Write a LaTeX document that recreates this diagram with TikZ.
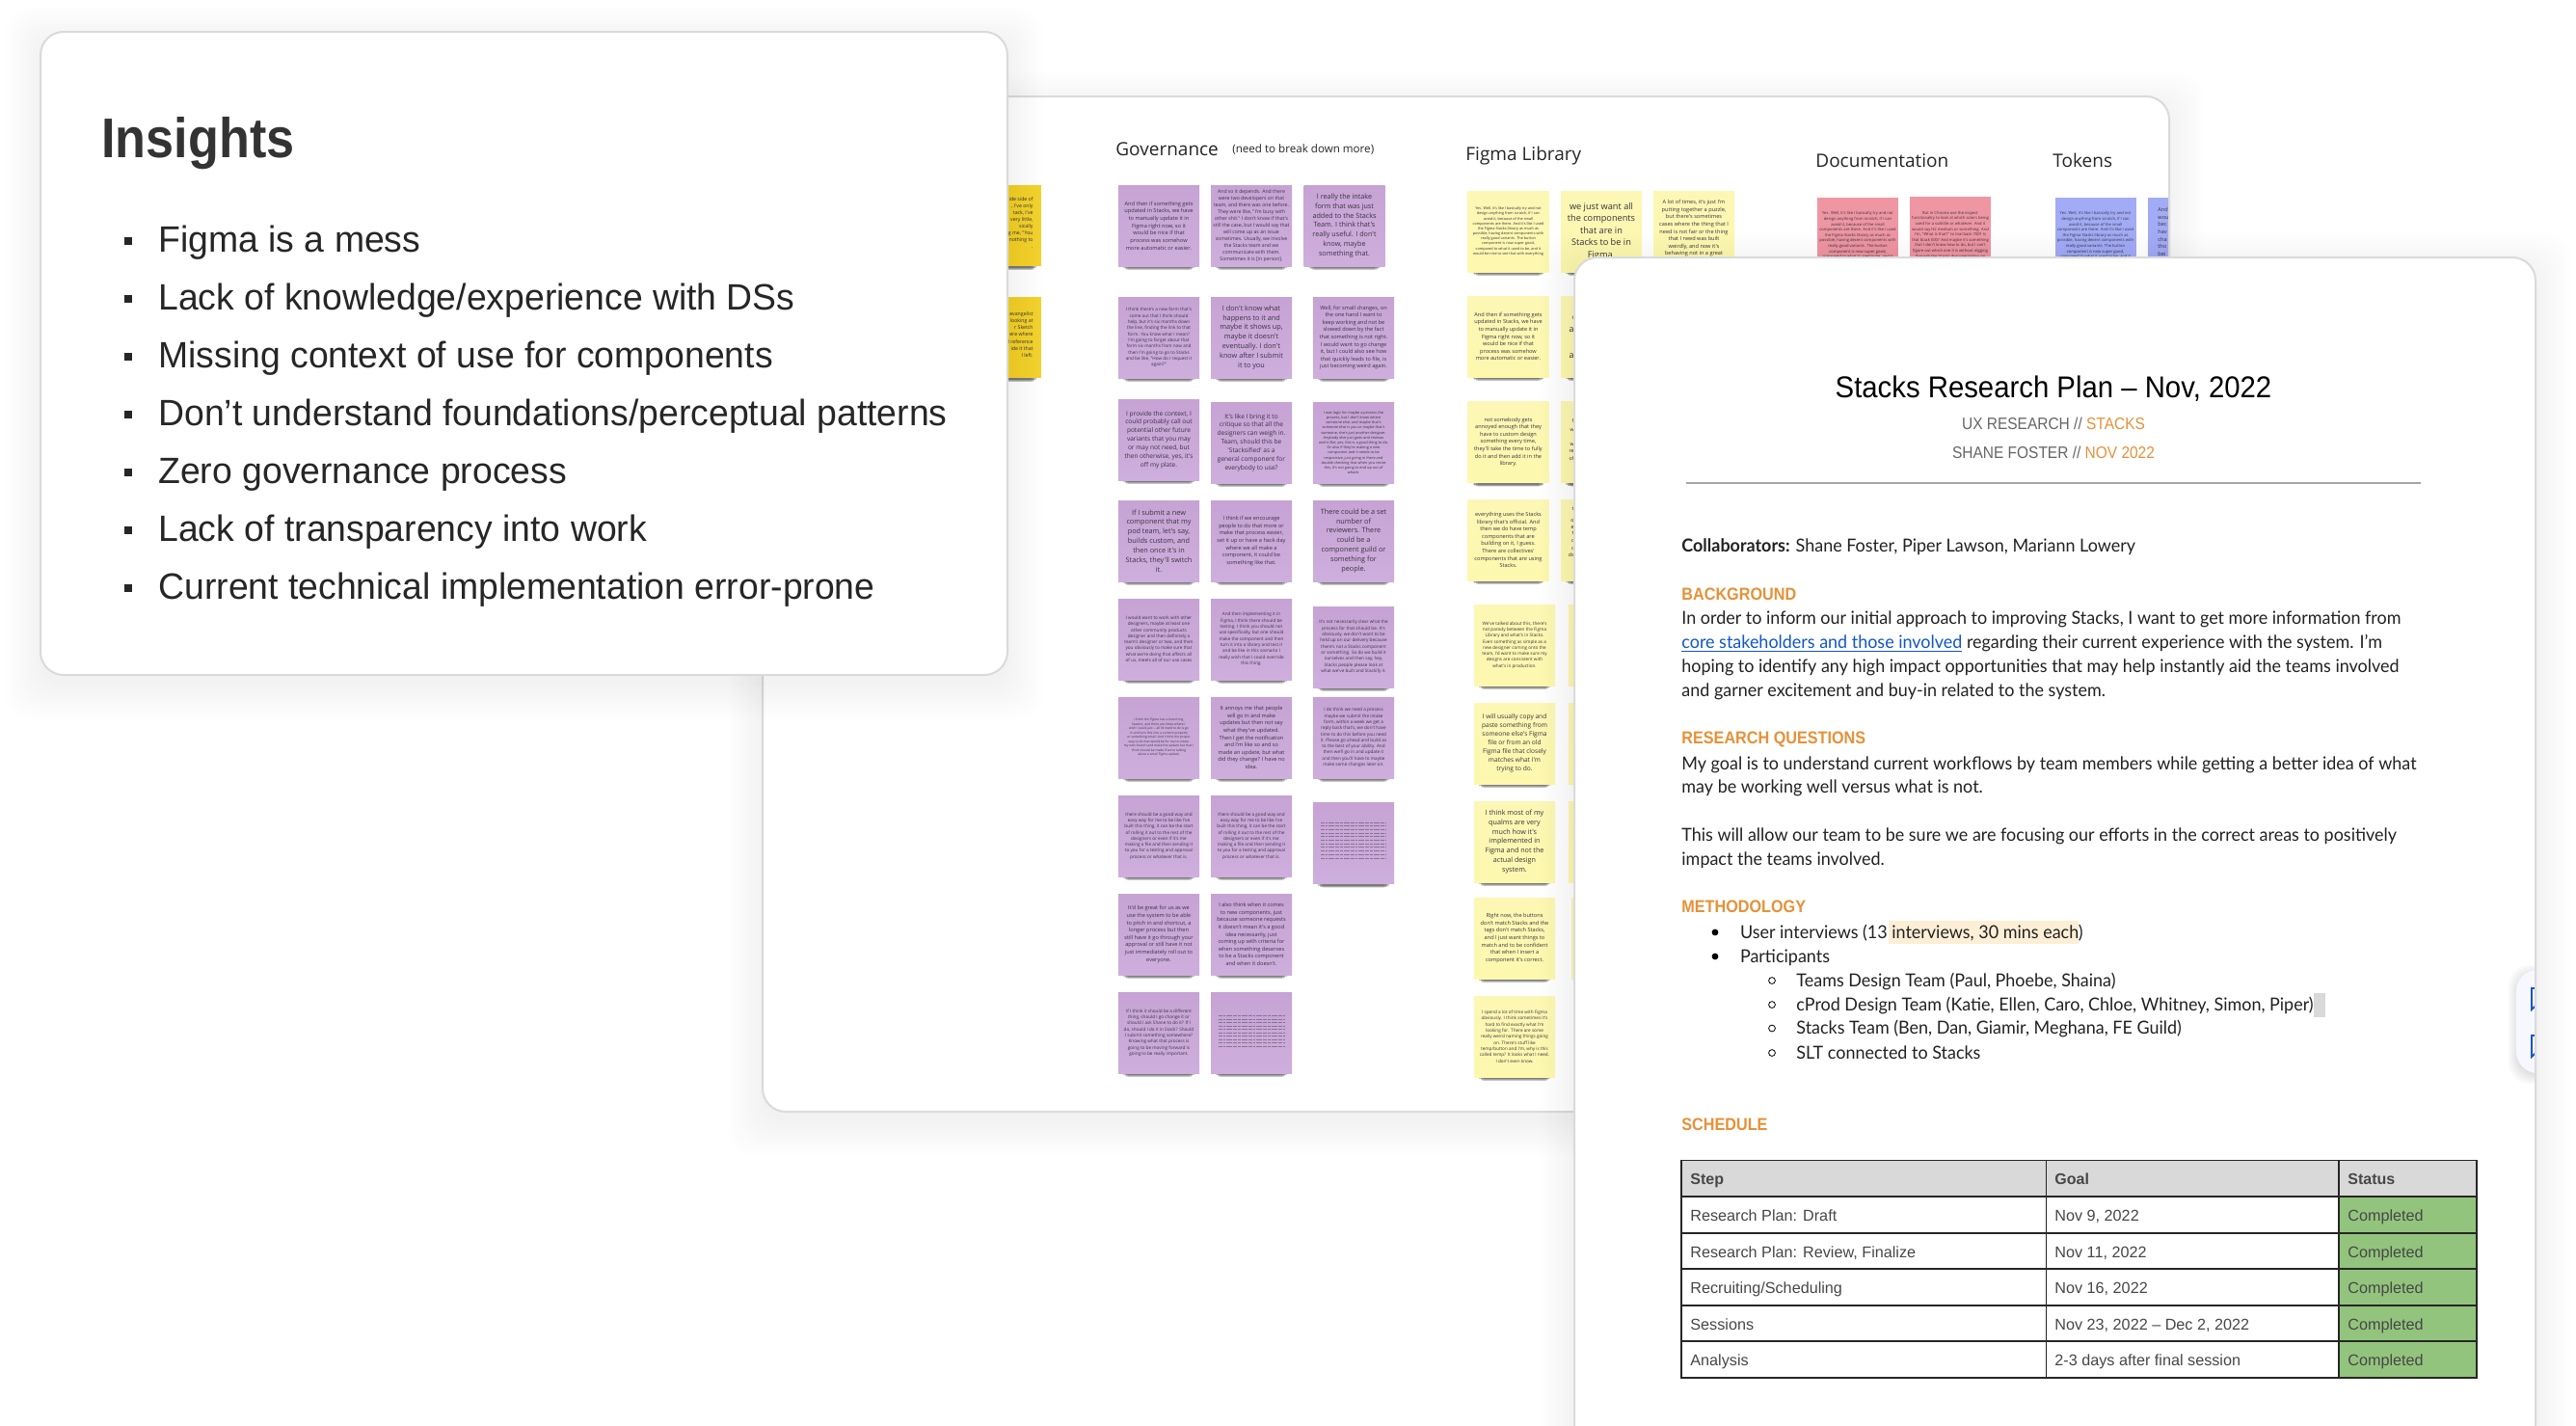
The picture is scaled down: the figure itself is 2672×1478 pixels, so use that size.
\documentclass[tikz,border=0pt]{standalone}
\usepackage{fontspec}
\usepackage{xcolor}
\usetikzlibrary{shadows}
\newfontfamily\insightfont[FakeStretch=.983]{Liberation Sans}
\newfontfamily\headfont[FakeStretch=.9]{Liberation Sans}
\newfontfamily\titlefont[FakeStretch=.94]{Liberation Sans}
\newfontfamily\tablefont{Liberation Sans}
\newfontfamily\docfont[FakeStretch=.965]{Lato}
\newfontfamily\notefont{Open Sans}
\newcommand{\nf}[1]{\fontsize{#1}{\the\dimexpr#1pt*136/100\relax}\selectfont}
\newcommand{\cardshadow}[4]{\foreach \g in {0,3,...,36} {\fill[black,opacity=.0045,rounded corners=12pt] (#1-\g,#2-\g+10) rectangle (#3+\g,#4+\g+10);}}
\definecolor{cardline}{HTML}{DADADA}
\definecolor{plumtop}{HTML}{C6A3D4}
\definecolor{plumlow}{HTML}{CEAEDC}
\definecolor{lemontop}{HTML}{FCF7B4}
\definecolor{lemonlow}{HTML}{FDF8AE}
\definecolor{rosenote}{HTML}{EF96A3}
\definecolor{bluenote}{HTML}{A2ABF5}
\definecolor{goldnote}{HTML}{F3D22E}
\definecolor{notetext}{HTML}{3A3340}
\definecolor{planorange}{HTML}{E69138}
\definecolor{plangrey}{HTML}{666666}
\definecolor{planlink}{HTML}{1155CC}
\definecolor{planbody}{HTML}{222222}
\definecolor{markcream}{HTML}{FDEFD5}
\definecolor{headgrey}{HTML}{D9D9D9}
\definecolor{donegreen}{HTML}{93C47D}
\tikzset{
  card/.style={fill=white,draw=cardline,line width=1pt,rounded corners=12pt},
  note/.style={rectangle,inner sep=0pt,minimum size=42pt,align=center,text=notetext,
    general shadow={fill=black,opacity=.10,shadow yshift=-9.54pt,shadow scale=.76},
    general shadow={fill=black,opacity=.14,shadow yshift=-7.7pt,shadow scale=.80},
    general shadow={fill=black,opacity=.18,shadow yshift=-5.86pt,shadow scale=.84},
    general shadow={fill=black,opacity=.22,shadow yshift=-4.02pt,shadow scale=.88}},
  plum/.style={note,top color=plumtop,bottom color=plumlow},
  lemon/.style={note,top color=lemontop,bottom color=lemonlow},
  rose/.style={note,fill=rosenote},
  periwinkle/.style={note,fill=bluenote},
  gold/.style={note,fill=goldnote},
  size/.style={font=\notefont\nf{#1}},
  scrawl/.style={draw=notetext,line width=.45pt,opacity=.45,dash pattern=on 2pt off .5pt on 1.2pt off .5pt on 3pt off .5pt},
  bitnote/.style={anchor=east,inner sep=0pt,text=notetext,font=\notefont\nf{2.6}},
  boardhead/.style={anchor=base west,inner sep=0pt,text=black!85,font=\notefont\fontsize{9.5}{11}\selectfont},
  insightline/.style={anchor=base west,inner sep=0pt,text=black!85,font=\insightfont\fontsize{19}{23}\selectfont},
  insightdot/.style={rectangle,fill=black!85,inner sep=0pt,minimum size=4pt},
  plantext/.style={anchor=base west,inner sep=0pt,text=planbody,font=\docfont\fontsize{9.3}{11}\selectfont},
  planhead/.style={anchor=base west,inner sep=0pt,text=planorange,font=\headfont\bfseries\fontsize{9}{11}\selectfont},
  plansub/.style={anchor=base,inner sep=0pt,text=plangrey,font=\headfont\fontsize{8.6}{11}\selectfont},
  dotmark/.style={circle,fill=black,inner sep=0pt,minimum size=3.4pt},
  ringmark/.style={circle,draw=black,line width=.4pt,inner sep=0pt,minimum size=3.4pt},
  tabletext/.style={anchor=base west,inner sep=0pt,text=black!72,font=\tablefont\fontsize{8.1}{10}\selectfont},
}
\begin{document}
\begin{tikzpicture}[x=0.5pt,y=-0.5pt]
\useasboundingbox (0,0) rectangle (2672,1478);
\fill[white] (0,0) rectangle (2672,1478);

\cardshadow{791}{100}{2250}{1153}
\draw[card] (791,100) rectangle (2250,1153);

\node[boardhead] (govhead) at (1157,161) {Governance};
\node[boardhead,font=\notefont\fontsize{5.8}{8}\selectfont] (govnote) at (1278,158) {(need to break down more)};
\node[boardhead] (libhead) at (1520,166) {Figma Library};
\node[boardhead] (dochead) at (1883,173) {Documentation};
\node[boardhead] (tokhead) at (2129,173) {Tokens};

\node[gold] (goldone) at (1038,234) {};
\node[gold] (goldtwo) at (1038,350) {};
\node[bitnote,align=right] (goldonetext) at (1072,231) {ide side of\\, I've only\\tack, I've\\very little,\\sically\\g me, "You\\nothing to\\.};
\node[bitnote,align=right] (goldtwotext) at (1072,347) {evangelist\\looking at\\r Sketch\\ere where\\l reference\\ide it that\\l left.};

\node[plum,size=2.83] (gov11) at (1202,234) {And then if something gets\\updated in Stacks, we have\\to manually update it in\\Figma right now, so it\\would be nice if that\\process was somehow\\more automatic or easier.};
\node[plum,size=2.57] (gov12) at (1298,234) {And so it depends. And there\\were two developers on that\\team, and there was one before.\\They were like, "I'm busy with\\other shit." I don't know if that's\\still the case, but I would say that\\will come up as an issue\\sometimes. Usually, we involve\\the Stacks team and we\\communicate with them.\\Sometimes it is [in person].};
\node[plum,size=3.6] (gov13) at (1394.5,234) {I really the intake\\form that was just\\added to the Stacks\\Team. I think that's\\really useful. I don't\\know, maybe\\something that.};
\node[plum,size=2.32] (gov21) at (1202,350) {I think there's a new form that's\\come out that I think should\\help, but it's six months down\\the line, finding the link to that\\form. You know what I mean?\\I'm going to forget about that\\form six months from now and\\then I'm going to go to Stacks\\and be like, "How do I request it\\again?"};
\node[plum,size=3.64] (gov22) at (1298,350) {I don't know what\\happens to it and\\maybe it shows up,\\maybe it doesn't\\eventually. I don't\\know after I submit\\it to you};
\node[plum,size=2.8] (gov23) at (1404,350) {Well, for small changes, on\\the one hand I want to\\keep working and not be\\slowed down by the fact\\that something is not right.\\I would want to go change\\it, but I could also see how\\that quickly leads to file, is\\just becoming weird again.};
\node[plum,size=3.27] (gov31) at (1202,456) {I provide the context, I\\could probably call out\\potential other future\\variants that you may\\or may not need, but\\then otherwise, yes, it's\\off my plate.};
\node[plum,size=3.27] (gov32) at (1298,459) {It's like I bring it to\\critique so that all the\\designers can weigh in.\\Team, should this be\\'Stacksified' as a\\general component for\\everybody to use?};
\node[plum,size=1.91] (gov33) at (1404,459) {I was logic for maybe a process the\\process, but I don't know where\\someone else, and maybe that's\\someone else is you or maybe that's\\someone, she's just another designer.\\Anybody else just goes and reviews\\and is like, yes, this is a good thing to do.\\Or also if they're making a new\\component and it needs to be\\responsive, just going in there and\\double checking that when you resize\\this, it's not going to end up out of\\whack.};
\node[plum,size=3.64] (gov41) at (1202,561) {If I submit a new\\component that my\\pod team, let's say,\\builds custom, and\\then once it's in\\Stacks, they'll switch\\it.};
\node[plum,size=2.8] (gov42) at (1298,561) {I think if we encourage\\people to do that more or\\make that process easier,\\set it up or have a hack day\\where we all make a\\component, it could be\\something like that.};
\node[plum,size=3.64] (gov43) at (1404,561) {There could be a set\\number of\\reviewers. There\\could be a\\component guild or\\something for\\people.};
\node[plum,size=2.32] (gov51) at (1202,663) {I would want to work with other\\designers, maybe at least one\\other community products\\designer and then definitely a\\team's designer or two, and then\\you obviously to make sure that\\what we're doing that affects all\\of us, meets all of our use cases};
\node[plum,size=2.32] (gov52) at (1298,663) {And then implementing it in\\Figma, I think there should be\\testing. I think you should not\\use specifically, but one should\\make the component and then\\turn it into a library and test it\\and be like in this scenario I\\really wish that I could override\\this thing.};
\node[plum,size=2.32] (gov53) at (1404,671) {It's not necessarily clear what the\\process for that should be. It's\\obviously, we don't want to be\\held up on our delivery because\\there's not a Stacks component\\or something. So do we build it\\ourselves and then say, hey,\\Stacks people please look at\\what we've built and Stackify it.};
\node[plum,size=1.65] (gov61) at (1202,765) {I think the Figma has a branching\\feature, and there are times where I\\wish I could just -- all I'd need to do is go\\in and turn this into a content property\\or something small. And I think the proper\\way to do that would be for me to create\\my own branch and make the update but that I\\think should be made if we're talking\\about a small Figma update.};
\node[plum,size=2.8] (gov62) at (1298,765) {It annoys me that people\\will go in and make\\updates but then not say\\what they've updated.\\Then I get the notification\\and I'm like so and so\\made an update, but what\\did they change? I have no\\idea.};
\node[plum,size=2.32] (gov63) at (1404,765) {I do think we need a process\\maybe we submit the intake\\form, within a week we get a\\reply back that's, we don't have\\time to do this before you need\\it. Please go ahead and build as\\to the best of your ability. And\\then we'll go in and update it\\and then you'll have to maybe\\make some changes later on.};
\node[plum,size=2.32] (gov71) at (1202,867) {there should be a good way and\\easy way for me to be like I've\\built this thing, it can be the start\\of rolling it out to the rest of the\\designers or even if it's me\\making a file and then sending it\\to you for a testing and approval\\process or whatever that is.};
\node[plum,size=2.32] (gov72) at (1298,867) {there should be a good way and\\easy way for me to be like I've\\built this thing, it can be the start\\of rolling it out to the rest of the\\designers or even if it's me\\making a file and then sending it\\to you for a testing and approval\\process or whatever that is.};
\node[plum] (gov73) at (1404,874.5) {};
\foreach \k in {0,...,10} {\draw[scrawl] (1370,853+\k*3.7) -- (1438,853+\k*3.7);}
\node[plum,size=2.8] (gov81) at (1202,969) {It'd be great for us as we\\use the system to be able\\to pitch in and shortcut, a\\longer process but then\\still have it go through your\\approval or still have it not\\just immediately roll out to\\everyone.};
\node[plum,size=2.8] (gov82) at (1298,969) {I also think when it comes\\to new components, just\\because someone requests\\it doesn't mean it's a good\\idea necessarily, just\\coming up with criteria for\\when something deserves\\to be a Stacks component\\and when it doesn't.};
\node[plum,size=2.32] (gov91) at (1202,1071) {If I think it should be a different\\thing, should I go change it or\\should I ask Shane to do it? If I\\do, should I do it in Stack? Should\\I submit something somewhere?\\Knowing what that process is\\going to be moving forward is\\going to be really important.};
\node[plum] (gov92) at (1298,1071) {};
\foreach \k in {0,...,9} {\draw[scrawl] (1264,1053.6+\k*3.5) -- (1333,1053.6+\k*3.5);}

\node[lemon,size=1.91] (lib11) at (1564.5,240) {Yes. Well, it's like I basically try and not\\design anything from scratch, if I can\\avoid it, because of the small\\components are there. And it's like I used\\the Figma Stacks library as much as\\possible, having decent components with\\really good variants. The button\\component is now super good,\\compared to what it used to be, and it\\would be nice to see that with everything};
\node[lemon,size=4.6] (lib12) at (1661,240) {we just want all\\the components\\that are in\\Stacks to be in\\Figma.};
\node[lemon,size=2.8] (lib13) at (1757,240) {A lot of times, it's just I'm\\putting together a puzzle,\\but there's sometimes\\cases where the thing that I\\need is not fair or the thing\\that I need was built\\weirdly, and now it's\\behaving not in a great\\\mbox{}};
\node[lemon,size=2.8] (lib21) at (1564.5,349) {And then if something gets\\updated in Stacks, we have\\to manually update it in\\Figma right now, so it\\would be nice if that\\process was somehow\\more automatic or easier.};
\node[lemon,size=2.8] (lib31) at (1564.5,458.5) {not somebody gets\\annoyed enough that they\\have to custom design\\something every time,\\they'll take the time to fully\\do it and then add it in the\\library.};
\node[lemon,size=2.8] (lib41) at (1564.5,560) {everything uses the Stacks\\library that's official. And\\then we do have temp\\components that are\\building on it, I guess.\\There are collectives'\\components that are using\\Stacks.};
\node[lemon,size=2.32] (lib51) at (1571,669) {We've talked about this, there's\\not parody between the Figma\\Library and what's in Stacks.\\Even something as simple as a\\new designer coming onto the\\team, I'd want to make sure my\\designs are consistent with\\what's in production.};
\node[lemon,size=3.3] (lib61) at (1571,771) {I will usually copy and\\paste something from\\someone else's Figma\\file or from an old\\Figma file that closely\\matches what I'm\\trying to do.};
\node[lemon,size=3.6] (lib71) at (1571,873) {I think most of my\\qualms are very\\much how it's\\implemented in\\Figma and not the\\actual design\\system.};
\node[lemon,size=2.8] (lib81) at (1571,973) {Right now, the buttons\\don't match Stacks and the\\tags don't match Stacks,\\and I just want things to\\match and to be confident\\that when I insert a\\component it's correct.};
\node[lemon,size=2.32] (lib91) at (1571,1075) {I spend a lot of time with Figma\\obviously. I think sometimes it's\\hard to find exactly what I'm\\looking for. There are some\\really weird naming things going\\on. There's stuff like\\temp/button and I'm, why is this\\called temp? It looks what I need.\\I don't even know.};
\foreach \x/\y [count=\i] in {1661/349,1661/458.5,1661/560,1669/669,1669/771,1669/873,1672/973} {\node[lemon] (libb\i) at (\x,\y) {};}
\foreach \y/\s [count=\i] in {342/a,369/a} {\node[bitnote,font=\notefont\nf{4.4}] (libbit\i) at (1633,\y) {\s};}
\foreach \y/\s [count=\i] in {330/t,437/f,446/w,461/w,468/re,476/of,528/t,540/o,547/e,553/t,561/c,569/c,576/ds} {\node[bitnote] (libsmall\i) at (1633,\y) {\s};}

\node[rose,size=2.06] (doc1) at (1927,247) {Yes. Well, it's like I basically try and not\\design anything from scratch, if I can\\avoid it, because of the small\\components are there. And it's like I used\\the Figma Stacks library as much as\\possible, having decent components with\\really good variants. The button\\component is now super good,\\compared to what it used to be, and it\\would be nice to see that with everything};
\node[rose,size=2.06] (doc2) at (2023,246) {But in Chrome use the inspect\\functionality to look at which colors being\\used for a subtitle or whatever. And it\\would say H2 medium or something. And\\I'm, "What is that?" to trial back 700? Is\\that black 500? And maybe it's something\\that I don't know how to do, but I can't\\figure out which one it is without digging\\through the Stacks documentation on\\\mbox{}};
\node[periwinkle,size=2.06] (tok1) at (2173.5,247) {Yes. Well, it's like I basically try and not\\design anything from scratch, if I can\\avoid it, because of the small\\components are there. And it's like I used\\the Figma Stacks library as much as\\possible, having decent components with\\really good variants. The button\\component is now super good,\\compared to what it used to be, and it\\would be nice to see that with everything};
\fill[bluenote] (2228,205) rectangle (2249,267);
\node[anchor=north west,inner sep=0pt,align=left,text=notetext,size=2.8] (tok2) at (2238,215) {And\\wou\\bec\\hav\\cha\\tho\\bei};

\cardshadow{1633}{267}{2630}{1520}
\fill[white,rounded corners=12pt] (1633,267) rectangle (2630,1520);
\fill[markcream] (1959,955) rectangle (2155.6,979);
\fill[headgrey] (2400,1029.5) rectangle (2412,1055);
\begin{scope}
\clip (1633,267) rectangle (2630,1520);
\foreach \g in {0,2,4,6,8} {\fill[black,opacity=.025,rounded corners=11pt] (2610-\g,1006-\g+3) rectangle (2670,1113+\g+3);}
\fill[blue!3,rounded corners=11pt] (2610,1006) rectangle (2670,1113);
\draw[planlink,line width=.9pt] (2631,1025) -- (2626,1025) -- (2626,1047) -- (2631,1042);
\draw[planlink,line width=.9pt] (2631,1074) -- (2626,1074) -- (2626,1096) -- (2631,1091);
\end{scope}
\draw[card,fill=none] (1633,267) rectangle (2630,1520);

\node[anchor=base,inner sep=0pt,text=black,font=\titlefont\fontsize{15.6}{18}\selectfont] (plantitle) at (2130,412) {Stacks Research Plan – Nov, 2022};
\node[plansub] (plansubone) at (2130,445) {UX RESEARCH // \textcolor{planorange}{STACKS}};
\node[plansub] (plansubtwo) at (2130,475) {SHANE FOSTER // \textcolor{planorange}{NOV 2022}};
\coordinate (ruleleft) at (1749,501);
\coordinate (ruleright) at (2511,501);
\draw[black!35,line width=1.4pt] (ruleleft) -- (ruleright);

\node[plantext] (collab) at (1744,572) {\textbf{Collaborators:} Shane Foster, Piper Lawson, Mariann Lowery};
\node[planhead] (bghead) at (1744,622) {BACKGROUND};
\node[plantext] (bgone) at (1744,647) {In order to inform our initial approach to improving Stacks, I want to get more information from};
\node[plantext] (bgtwo) at (1744,672) {\textcolor{planlink}{\underline{core stakeholders and those involved}} regarding their current experience with the system. I’m};
\node[plantext] (bgthree) at (1744,697) {hoping to identify any high impact opportunities that may help instantly aid the teams involved};
\node[plantext] (bgfour) at (1744,722) {and garner excitement and buy-in related to the system.};
\node[planhead] (rqhead) at (1744,771) {RESEARCH QUESTIONS};
\node[plantext] (rqone) at (1744,798) {My goal is to understand current workflows by team members while getting a better idea of what};
\node[plantext] (rqtwo) at (1744,822) {may be working well versus what is not.};
\node[plantext] (rqthree) at (1744,872) {This will allow our team to be sure we are focusing our efforts in the correct areas to positively};
\node[plantext] (rqfour) at (1744,897) {impact the teams involved.};
\node[planhead] (mhead) at (1744,946) {METHODOLOGY};
\node[dotmark] (dotone) at (1779,967) {};
\node[plantext] (mone) at (1804.6,973) {User interviews (13 interviews, 30 mins each)};
\node[dotmark] (dottwo) at (1779,992) {};
\node[plantext] (mtwo) at (1804.6,998) {Participants};
\foreach \y/\s [count=\i] in {1017/{Teams Design Team (Paul, Phoebe, Shaina)},1042/{cProd Design Team (Katie, Ellen, Caro, Chloe, Whitney, Simon, Piper)},1066.5/{Stacks Team (Ben, Dan, Giamir, Meghana, FE Guild)},1092/{SLT connected to Stacks}} {
\node[ringmark] (ring\i) at (1838,\y) {};
\node[plantext] (team\i) at (1863,\y+6) {\s};
}
\node[planhead] (shead) at (1744,1172) {SCHEDULE};

\fill[headgrey] (1744,1203.4) rectangle (2569,1241);
\fill[donegreen] (2426,1241) rectangle (2569,1429);
\draw[black!85,line width=.75pt] (1744,1203.4) rectangle (2569,1429);
\foreach \y in {1241,1279,1316,1354,1391} {\draw[black!85,line width=.75pt] (1744,\y) -- (2569,\y);}
\foreach \x in {2122.7,2426} {\draw[black!85,line width=.75pt] (\x,1203.4) -- (\x,1429);}
\node[tabletext,font=\tablefont\bfseries\fontsize{8}{10}\selectfont] (stephead) at (1753,1228) {Step};
\node[tabletext,font=\tablefont\bfseries\fontsize{8}{10}\selectfont] (goalhead) at (2131,1228) {Goal};
\node[tabletext,font=\tablefont\bfseries\fontsize{8}{10}\selectfont] (statushead) at (2435,1228) {Status};
\foreach \y/\s/\d [count=\i] in {1266/{Research Plan: Draft}/{Nov 9, 2022},1304/{Research Plan: Review, Finalize}/{Nov 11, 2022},1341/{Recruiting/Scheduling}/{Nov 16, 2022},1379/{Sessions}/{Nov 23, 2022 – Dec 2, 2022},1416/{Analysis}/{2-3 days after final session}} {
\node[tabletext] (step\i) at (1753,\y) {\s};
\node[tabletext] (goal\i) at (2131,\y) {\d};
\node[tabletext] (status\i) at (2435,\y) {Completed};
}

\cardshadow{42}{33}{1045}{700}
\draw[card] (42,33) rectangle (1045,700);
\node[anchor=base west,inner sep=0pt,text=black!80,font=\headfont\bfseries\fontsize{29}{34}\selectfont] (insightshead) at (105,163) {Insights};
\foreach \s [count=\i] in {Figma is a mess,Lack of knowledge/experience with DSs,Missing context of use for components,Don’t understand foundations/perceptual patterns,Zero governance process,Lack of transparency into work,Current technical implementation error-prone} {
\node[insightdot] (insightdot\i) at (133,190+\i*60) {};
\node[insightline] (insight\i) at (164,201+\i*60) {\s};
}
\end{tikzpicture}
\end{document}
